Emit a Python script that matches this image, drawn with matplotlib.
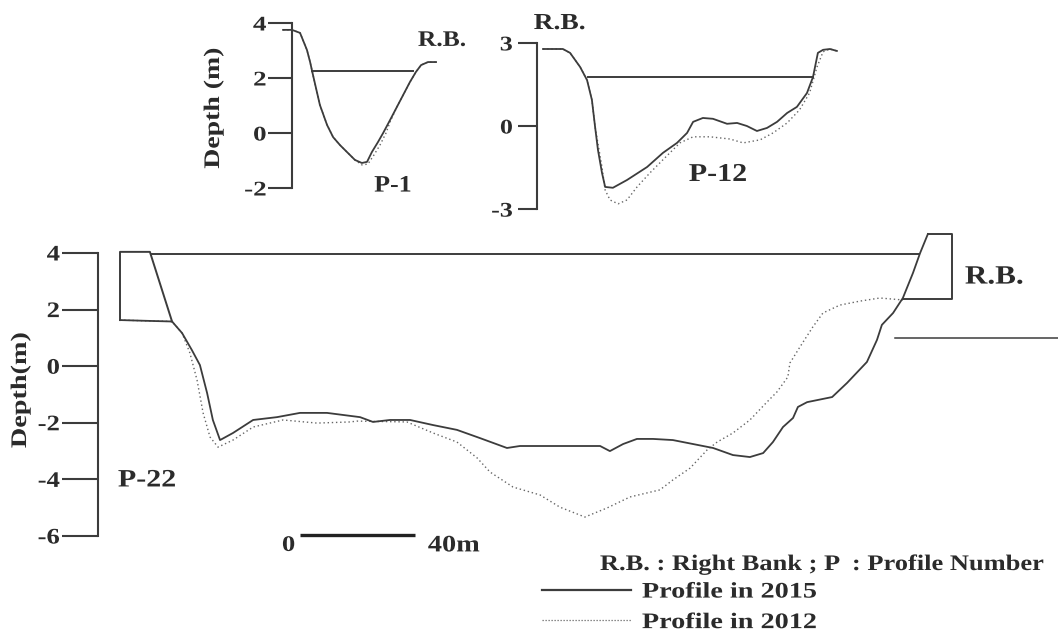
import matplotlib
matplotlib.use("Agg")
import matplotlib.pyplot as plt
from matplotlib.lines import Line2D
from matplotlib.patheffects import AbstractPathEffect
from matplotlib.transforms import Affine2D

# ---------------------------------------------------------------- data
# Profile P-1 (distance in m, depth in m)
p1_x_2015 = [-3.1, 0, 2.8, 5.2, 6.3, 7.3, 9.7, 12.2, 14.3, 16.7, 19.1, 21.9, 24.3,
             26.1, 27.8, 29.9, 31.7, 34.1, 36.5, 39.0, 41.0, 43.1, 44.9, 47.3, 50.1]
p1_d_2015 = [3.75, 3.75, 3.64, 3.02, 2.58, 2.11, 1.02, 0.29, -0.15, -0.44, -0.69, -0.98, -1.09,
             -1.05, -0.69, -0.33, 0.0, 0.47, 0.95, 1.45, 1.85, 2.22, 2.47, 2.58, 2.58]
p1_x_2012 = [-3.1, 0, 2.8, 5.2, 6.3, 7.3, 9.7, 12.2, 14.3, 16.7, 19.1, 21.9, 24.3,
             26.4, 28.5, 30.6, 32.7, 34.1, 36.5, 39.0, 41.0, 43.1, 44.9, 47.3, 50.1]
p1_d_2012 = [3.75, 3.75, 3.64, 3.02, 2.58, 2.11, 1.02, 0.29, -0.15, -0.44, -0.69, -0.98, -1.16,
             -1.13, -0.80, -0.44, 0.0, 0.40, 0.95, 1.45, 1.85, 2.22, 2.47, 2.58, 2.58]
p1_water = (7.0, 42.1, 2.25)
p1_ticks = [4, 2, 0, -2]

# Profile P-12
p12_x_2015 = [2.1, 9.0, 11.5, 15.0, 17.4, 19.1, 20.2, 21.2, 22.6, 23.7, 26.4, 31.3,
              38.3, 43.8, 48.7, 52.2, 54.3, 57.7, 61.2, 66.1, 69.6, 73.0, 76.5, 80.0,
              83.5, 87.0, 90.4, 93.9, 96.0, 97.7, 99.5, 101.9, 104.3]
p12_d_2015 = [2.78, 2.78, 2.64, 2.13, 1.66, 0.94, -0.03, -0.86, -1.69, -2.20, -2.23, -1.95,
              -1.48, -0.97, -0.61, -0.25, 0.15, 0.29, 0.26, 0.08, 0.11, 0.00, -0.18, -0.07,
              0.15, 0.47, 0.69, 1.19, 1.77, 2.64, 2.75, 2.78, 2.71]
p12_x_2012 = [2.1, 9.0, 11.5, 15.0, 17.4, 19.1, 20.2, 22.6, 23.7, 25.4, 28.2, 31.3,
              34.8, 39.3, 43.8, 49.7, 54.3, 60.2, 67.1, 71.7, 77.6, 82.1, 87.0, 91.3,
              94.8, 97.4, 99.5, 101.9, 104.3]
p12_d_2012 = [2.78, 2.78, 2.64, 2.13, 1.66, 0.94, -0.03, -1.48, -2.31, -2.67, -2.81, -2.67,
              -2.20, -1.69, -1.22, -0.61, -0.39, -0.39, -0.47, -0.61, -0.50, -0.25, 0.11, 0.58,
              1.19, 2.13, 2.68, 2.78, 2.71]
p12_water = (17.7, 96.0, 1.77)
p12_ticks = [3, 0, -3]

# Profile P-22
p22_x_2015 = [0, 10.4, 18.1, 21.6, 25.0, 27.8, 30.3, 32.3, 34.8, 39.3, 46.3, 54.6,
              62.6, 72.0, 83.5, 88.0, 93.9, 100.9, 108.9, 117.2, 125.2, 134.6, 139.1, 157.6,
              167.0, 170.4, 175.0, 179.8, 185.4, 192.3, 199.3, 206.3, 213.2, 219.1, 223.7, 227.1,
              230.6, 234.1, 235.8, 239.0, 247.7, 252.9, 259.8, 263.3, 265.0, 268.9, 272.3, 275.8,
              278.3, 281.0]
p22_d_2015 = [1.63, 1.60, 1.58, 1.17, 0.57, 0.04, -0.95, -1.90, -2.61, -2.36, -1.90, -1.80,
              -1.65, -1.65, -1.80, -1.97, -1.90, -1.90, -2.08, -2.25, -2.54, -2.89, -2.82, -2.82,
              -2.82, -3.00, -2.75, -2.57, -2.57, -2.61, -2.75, -2.89, -3.14, -3.21, -3.07, -2.68,
              -2.15, -1.83, -1.44, -1.27, -1.09, -0.59, 0.15, 0.93, 1.46, 1.88, 2.41, 3.29,
              4.00, 4.67]
p22_x_2012 = [0, 10.4, 18.1, 21.6, 24.3, 26.8, 28.9, 31.3, 34.1, 39.3, 46.3, 56.7,
              68.5, 80.0, 82.4, 99.8, 108.9, 117.2, 124.2, 128.7, 136.7, 146.1, 153.0, 161.7,
              169.4, 177.4, 187.8, 192.3, 198.3, 204.2, 207.7, 213.2, 219.1, 225.0, 228.5, 232.3,
              233.0, 236.5, 241.0, 244.5, 250.4, 257.4, 264.3, 268.9, 272.3]
p22_d_2012 = [1.63, 1.60, 1.58, 1.17, 0.47, -0.49, -1.65, -2.50, -2.86, -2.61, -2.15, -1.90,
              -2.01, -1.97, -1.94, -1.97, -2.36, -2.68, -3.24, -3.74, -4.27, -4.55, -4.98, -5.33,
              -5.01, -4.62, -4.37, -4.02, -3.60, -2.96, -2.68, -2.36, -1.90, -1.27, -0.91, -0.38,
              0.11, 0.68, 1.39, 1.88, 2.16, 2.30, 2.41, 2.37, 2.34]
p22_water = (11.1, 277.9, 3.96)
p22_left_bank_x = [18.1, 10.4, 0, 0]
p22_left_bank_d = [1.58, 4.04, 4.04, 1.63]
p22_right_bank_x = [281.0, 289.4, 289.4, 272.3]
p22_right_bank_d = [4.67, 4.67, 2.37, 2.37]
p22_side_line = (269.6, 1.0)
p22_ticks = [4, 2, 0, -2, -4, -6]
scale_bar_start, scale_bar_len, scale_bar_depth = 62.6, 40, -5.96

legend_labels = ["Profile in 2015", "Profile in 2012"]

# ---------------------------------------------------------------- style
W, H = 1058, 635
plt.rcParams["font.family"] = ["Liberation Serif", "DejaVu Serif"]
plt.rcParams["font.weight"] = "bold"
INK = "#2b2b2b"
LINE = "#3c3c3c"
DOT = "#666666"
DOTS = (0, (1.0, 2.0))
PX_PER_M = 2.875


class Widen(AbstractPathEffect):
    """Draw text glyphs wider along the baseline, about a fixed anchor."""

    def __init__(self, factor, anchor=0.0):
        super().__init__()
        self.factor = factor
        self.anchor = anchor

    def draw_path(self, renderer, gc, tpath, affine, rgbFace=None):
        ext = tpath.get_extents()
        x_anchor = ext.x0 + self.anchor * ext.width
        pre = Affine2D().translate(-x_anchor, 0).scale(self.factor, 1).translate(x_anchor, 0)
        renderer.draw_path(gc, tpath, pre + affine, rgbFace)


ANCHOR = {"left": 0.0, "center": 0.5, "right": 1.0}

fig = plt.figure(figsize=(W / 100, H / 100), dpi=100)


def label(target, x, y, s, size, widen=1.2, ha="left", rotation=0, **kw):
    t = target.text(x, y, s, fontsize=size, color=INK, ha=ha, va="center",
                    rotation=rotation, fontweight="bold", **kw)
    t.set_path_effects([Widen(widen, ANCHOR[ha])])
    return t


def panel(px_left, px_right, py_top, py_bottom, x0_px, y0_px, sy):
    """Axes over a pixel box; distance 0 sits at x0_px, depth 0 at y0_px."""
    ax = fig.add_axes([px_left / W, 1 - py_bottom / H,
                       (px_right - px_left) / W, (py_bottom - py_top) / H])
    ax.set_xlim((px_left - x0_px) / PX_PER_M, (px_right - x0_px) / PX_PER_M)
    ax.set_ylim((y0_px - py_bottom) / sy, (y0_px - py_top) / sy)
    ax.patch.set_alpha(0)
    for s in ("top", "right", "bottom"):
        ax.spines[s].set_visible(False)
    ax.set_xticks([])
    ax.spines["left"].set_color(LINE)
    ax.spines["left"].set_linewidth(1.5)
    return ax


def depth_axis(ax, ticks, tick_len, size, pad, widen):
    ax.spines["left"].set_bounds(min(ticks), max(ticks))
    ax.set_yticks(ticks)
    ax.set_yticklabels([str(t) for t in ticks])
    ax.tick_params(axis="y", direction="out", length=tick_len, width=1.5,
                   color=LINE, labelsize=size, pad=pad, labelcolor=INK)
    for tick in ax.yaxis.get_major_ticks():
        tick.label1.set_fontweight("bold")
        tick.label1.set_path_effects([Widen(widen, 1.0)])


def profiles(ax, xs, ds, xd, dd, water):
    ax.plot(xd, dd, color=DOT, lw=1.0, linestyle=DOTS, clip_on=False)
    ax.plot(xs, ds, color=LINE, lw=1.3, solid_joinstyle="round", clip_on=False)
    ax.plot([water[0], water[1]], [water[2], water[2]], color=LINE, lw=1.4)


# ---- P-1
ax1 = panel(292, 470, 10, 200, 292, 133, 27.5)
depth_axis(ax1, p1_ticks, 17, 15, 1.5, 1.3)
profiles(ax1, p1_x_2015, p1_d_2015, p1_x_2012, p1_d_2012, p1_water)
label(ax1, 43.8, 3.35, "R.B.", 16, 1.15)
label(ax1, 35.1, -1.93, "P-1", 17, 1.1, ha="center")
label(fig, 214 / W, 1 - 108 / H, "Depth (m)", 16, 1.25, ha="center", rotation=90)

# ---- P-12
ax12 = panel(537, 860, 30, 215, 537, 126, 27.7)
depth_axis(ax12, p12_ticks, 14, 15, 3.5, 1.25)
profiles(ax12, p12_x_2015, p12_d_2015, p12_x_2012, p12_d_2012, p12_water)
label(ax12, 7.8, 3.7, "R.B.", 16.5, 1.2, ha="center")
label(ax12, 63.0, -1.75, "P-12", 18.5, 1.17, ha="center")

# ---- P-22
ax22 = panel(98, 1058, 225, 560, 120, 253 + 4 * 28.3, 28.3)
depth_axis(ax22, p22_ticks, 26, 16, 1.5, 1.2)
profiles(ax22, p22_x_2015, p22_d_2015, p22_x_2012, p22_d_2012, p22_water)
ax22.plot(p22_left_bank_x, p22_left_bank_d, color=LINE, lw=1.4)
ax22.plot(p22_right_bank_x, p22_right_bank_d, color=LINE, lw=1.4)
ax22.plot([p22_side_line[0], ax22.get_xlim()[1]], [p22_side_line[1]] * 2,
          color=LINE, lw=1.1)
label(ax22, 293.9, 3.15, "R.B.", 19, 1.18)
label(ax22, -0.7, -4.02, "P-22", 18, 1.2)
# scale bar
ax22.plot([scale_bar_start, scale_bar_start + scale_bar_len], [scale_bar_depth] * 2,
          color="#222222", lw=2.4, solid_capstyle="butt")
label(ax22, scale_bar_start - 1.7, -6.35, "0", 16, 1.2, ha="right")
label(ax22, scale_bar_start + scale_bar_len + 4.5, -6.35, f"{scale_bar_len}m", 17, 1.2)
label(fig, 21 / W, 1 - 390 / H, "Depth(m)", 16, 1.27, ha="center", rotation=90)

# ---- notes and legend
label(fig, 600 / W, 1 - 565 / H, "R.B. : Right Bank ; P  : Profile Number", 16, 1.19)
handles = [Line2D([], [], color=LINE, lw=1.6),
           Line2D([], [], color=DOT, lw=0.9, linestyle=(0, (1, 1.4)))]
leg = fig.legend(handles, legend_labels, loc="upper left",
                 bbox_to_anchor=(542 / W, 1 - 582 / H), frameon=False,
                 handlelength=4.0, handletextpad=0.5,
                 labelspacing=0.45, borderaxespad=0, borderpad=0,
                 labelcolor=INK, prop={"weight": "bold", "size": 16})
for t in leg.get_texts():
    t.set_path_effects([Widen(1.27, 0.0)])

fig.savefig("out.png", dpi=100, facecolor="white")
